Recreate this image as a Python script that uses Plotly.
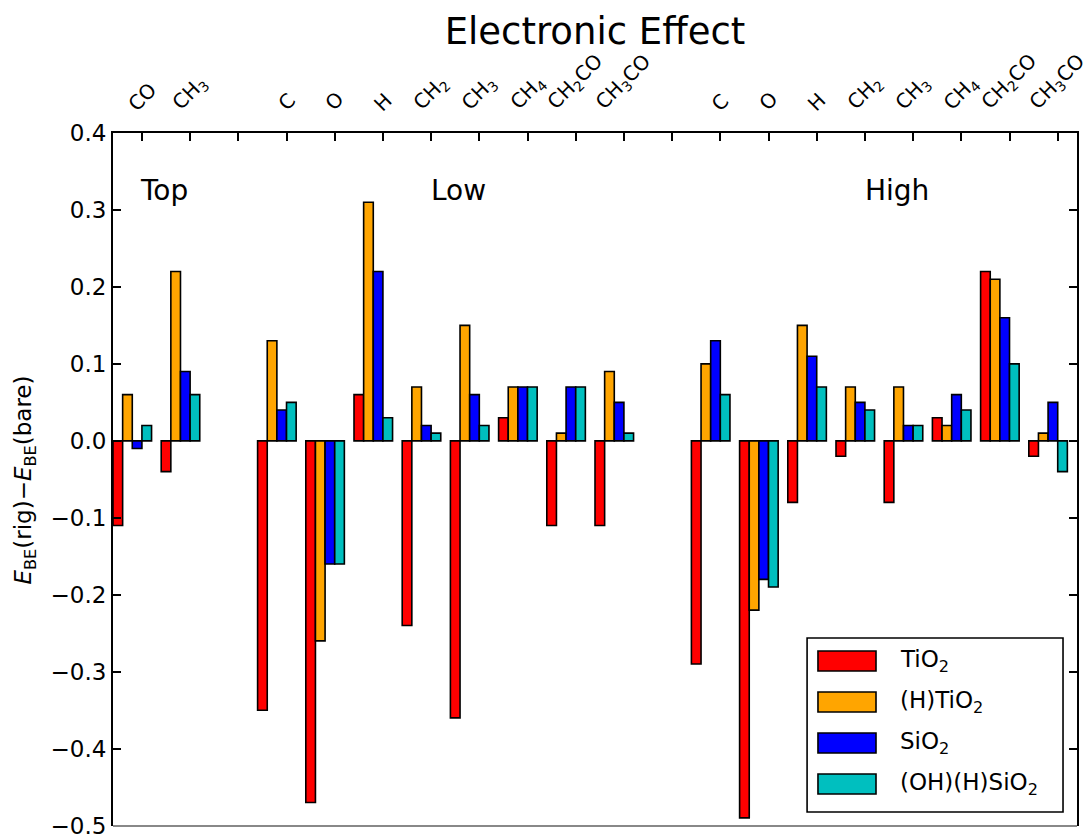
import plotly.graph_objects as go

# Adsorbate groups (site name, species on that site)
sites = ["Top", "Low", "High"]
top_species = ["CO", "CH<sub>3</sub>"]
low_species = ["C", "O", "H", "CH<sub>2</sub>", "CH<sub>3</sub>", "CH<sub>4</sub>",
               "CH<sub>2</sub>CO", "CH<sub>3</sub>CO"]
high_species = ["C", "O", "H", "CH<sub>2</sub>", "CH<sub>3</sub>", "CH<sub>4</sub>",
                "CH<sub>2</sub>CO", "CH<sub>3</sub>CO"]

# E_BE(rig) - E_BE(bare) per surface, ordered Top | Low | High
tio2 = [-0.11, -0.04,
        -0.35, -0.47, 0.06, -0.24, -0.36, 0.03, -0.11, -0.11,
        -0.29, -0.49, -0.08, -0.02, -0.08, 0.03, 0.22, -0.02]
h_tio2 = [0.06, 0.22,
          0.13, -0.26, 0.31, 0.07, 0.15, 0.07, 0.01, 0.09,
          0.10, -0.22, 0.15, 0.07, 0.07, 0.02, 0.21, 0.01]
sio2 = [-0.01, 0.09,
        0.04, -0.16, 0.22, 0.02, 0.06, 0.07, 0.07, 0.05,
        0.13, -0.18, 0.11, 0.05, 0.02, 0.06, 0.16, 0.05]
oh_h_sio2 = [0.02, 0.06,
             0.05, -0.16, 0.03, 0.01, 0.02, 0.07, 0.07, 0.01,
             0.06, -0.19, 0.07, 0.04, 0.02, 0.04, 0.10, -0.04]

series_names = ["TiO<sub>2</sub>", "(H)TiO<sub>2</sub>", "SiO<sub>2</sub>", "(OH)(H)SiO<sub>2</sub>"]
series_values = [tio2, h_tio2, sio2, oh_h_sio2]
series_colors = ["#ff0000", "#ffa500", "#0000ff", "#00bfbf"]

y_ticks = [-0.5, -0.4, -0.3, -0.2, -0.1, 0.0, 0.1, 0.2, 0.3, 0.4]

# slot layout: each site block separated by one empty slot
groups = [top_species, low_species, high_species]
positions, labels = [], []
slot = 0
for gi, g in enumerate(groups):
    for name in g:
        positions.append(slot)
        labels.append(name)
        slot += 1
    if gi < len(groups) - 1:
        slot += 1
n_slots = slot
bar_w = 0.2
label_off = 3 * bar_w  # species label sits between 3rd and 4th bar

FONT = "DejaVu Sans"
fig = go.Figure()
for k, (name, vals, col) in enumerate(zip(series_names, series_values, series_colors)):
    fig.add_trace(go.Bar(
        x=[p + k * bar_w for p in positions], y=vals,
        width=bar_w, offset=0, name=name,
        marker=dict(color=col, line=dict(color="black", width=1.6)),
        showlegend=False,
    ))

# rotated species labels above the top axis, centred on their ticks
for p, name in zip(positions, labels):
    fig.add_annotation(x=p + label_off, y=1.021, xref="x", yref="paper", text=name,
                       textangle=-45, showarrow=False, xanchor="center", yanchor="bottom",
                       font=dict(family=FONT, size=20, color="black"))

# site headings
site_x = [1.06, 7.16, 16.27]
for s, sx in zip(sites, site_x):
    fig.add_annotation(x=sx, y=0.325, xref="x", yref="y", text=s, showarrow=False,
                       font=dict(family=FONT, size=28, color="black"),
                       xanchor="center", yanchor="middle")

# legend box drawn in paper space
lx0, lx1, ly0, ly1 = 0.720, 0.9855, 0.0202, 0.2713
fig.add_shape(type="rect", xref="paper", yref="paper", x0=lx0, x1=lx1, y0=ly0, y1=ly1,
              line=dict(color="black", width=1.6), fillcolor="white", layer="above")
row_y = [0.2381, 0.1789, 0.1198, 0.0606]
for name, col, ry in zip(series_names, series_colors, row_y):
    fig.add_shape(type="rect", xref="paper", yref="paper", x0=0.7313, x1=0.7915,
                  y0=ry - 0.0144, y1=ry + 0.0144,
                  line=dict(color="black", width=1.6), fillcolor=col, layer="above")
    fig.add_annotation(x=0.8143, y=ry, xref="paper", yref="paper", text=name,
                       showarrow=False, xanchor="left", yanchor="middle",
                       font=dict(family=FONT, size=23, color="black"))

# grey bottom spine
fig.add_shape(type="line", xref="paper", yref="paper", x0=0, x1=1, y0=0, y1=0,
              line=dict(color="#888888", width=2), layer="above")

# y-axis title
fig.add_annotation(x=-0.0913, y=0.5, xref="paper", yref="paper",
                   text="<i>E</i><sub>BE</sub>(rig)\u2212<i>E</i><sub>BE</sub>(bare)",
                   textangle=-90, showarrow=False, xanchor="center", yanchor="middle",
                   font=dict(family=FONT, size=23, color="black"))

fig.update_layout(
    width=1086, height=836,
    margin=dict(l=113, r=9, t=133, b=10, autoexpand=False),
    paper_bgcolor="white", plot_bgcolor="white",
    barmode="overlay",
    font=dict(family=FONT, color="black"),
    title=dict(text="Electronic Effect", x=0.5, xref="paper", xanchor="center",
               y=1 - 31 / 836, yanchor="middle",
               font=dict(family=FONT, size=37, color="black")),
    xaxis=dict(
        range=[0, n_slots], side="top",
        tickvals=[i + label_off for i in range(n_slots)],
        showticklabels=False, automargin=False,
        ticks="inside", ticklen=8, tickwidth=1.5, tickcolor="black",
        showline=True, linecolor="black", linewidth=2, mirror=False,
        showgrid=False, zeroline=False,
    ),
    yaxis=dict(
        range=[-0.5005, 0.4], automargin=False,
        tickvals=y_ticks,
        ticktext=[("\u2212" if v < 0 else "") + f"{abs(v):.1f}" for v in y_ticks],
        ticklabeloverflow="allow",
        ticks="inside", ticklen=8, tickwidth=1.5, tickcolor="black",
        tickfont=dict(family=FONT, size=23, color="black"),
        showline=True, linecolor="black", linewidth=2, mirror="ticks",
        showgrid=False, zeroline=False,
    ),
)

fig.write_html("out.html")
